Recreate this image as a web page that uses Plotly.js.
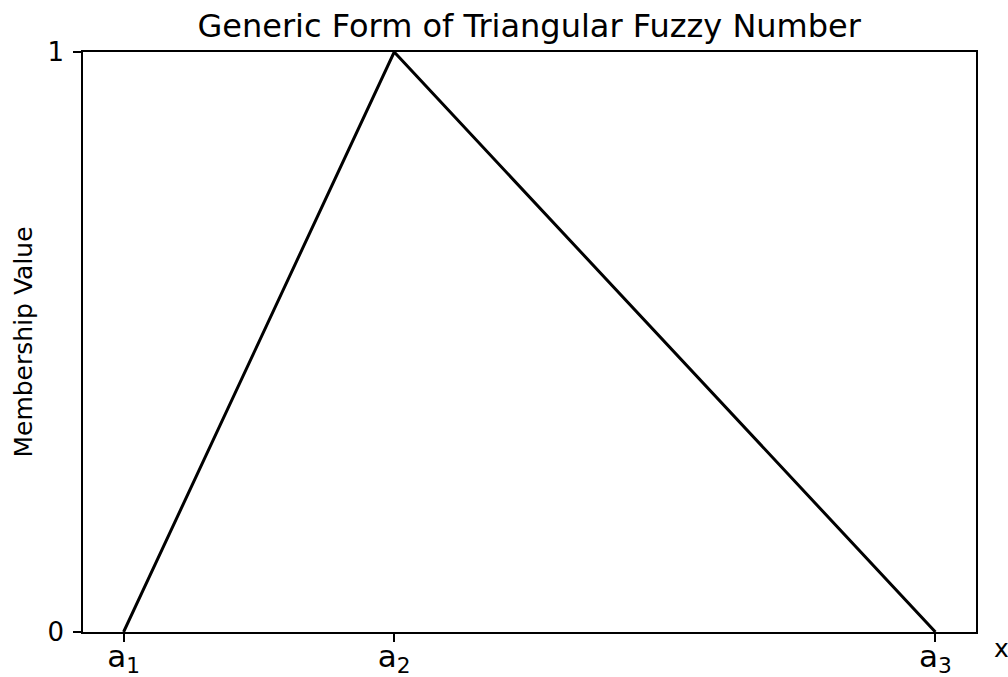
<!DOCTYPE html>
<html><head><meta charset="utf-8">
<script src="https://cdn.plot.ly/plotly-3.0.1.min.js"></script>
<style>body{margin:0;background:#fff}#c{width:1008px;height:677px}</style>
</head><body><div id="c"></div>
<script>
const xVals = [2, 4, 8];
const yVals = [0, 1, 0];
const tickVals = [2, 4, 8];
const tickText = ['a<sub>1</sub>', 'a<sub>2</sub>', 'a<sub>3</sub>'];
const yTickVals = [0, 1];
const yTickText = ['0', '1'];

const F = '"DejaVu Sans", sans-serif';
Plotly.newPlot('c', [{
  x: xVals, y: yVals, mode: 'lines', type: 'scatter',
  line: {color: '#000', width: 3}, hoverinfo: 'skip'
}], {
  width: 1008, height: 677,
  margin: {l: 83, r: 32, t: 52, b: 45},
  paper_bgcolor: '#fff', plot_bgcolor: '#fff',
  showlegend: false,
  title: {text: 'Generic Form of Triangular Fuzzy Number', font: {family: F, size: 32, color: '#000'}, x: 0.525, xanchor: 'center', y: 0.962, yanchor: 'middle'},
  xaxis: {range: [1.7, 8.3], tickvals: tickVals, ticktext: tickText, ticks: 'outside', ticklen: 8, tickwidth: 1.5, tickcolor: '#000',
    showgrid: false, zeroline: false, showline: true, mirror: true, linecolor: '#000', linewidth: 1.5,
    ticklabelstandoff: -12,
    tickfont: {family: F, size: 31, color: '#000'}},
  yaxis: {range: [0, 1], tickvals: yTickVals, ticktext: yTickText, ticks: 'outside', ticklen: 8, tickwidth: 1.5, tickcolor: '#000',
    showgrid: false, zeroline: false, showline: true, mirror: true, linecolor: '#000', linewidth: 1.5,
    ticklabelstandoff: 4,
    tickfont: {family: F, size: 26, color: '#000'},
    title: {text: 'Membership Value', font: {family: F, size: 25, color: '#000'}, standoff: 8}},
  annotations: [{text: 'x', xref: 'paper', yref: 'paper', x: 1.0285, y: -0.029, xanchor: 'center', yanchor: 'middle', showarrow: false, font: {family: F, size: 25, color: '#000'}}]
}, {displayModeBar: false});
</script></body></html>
